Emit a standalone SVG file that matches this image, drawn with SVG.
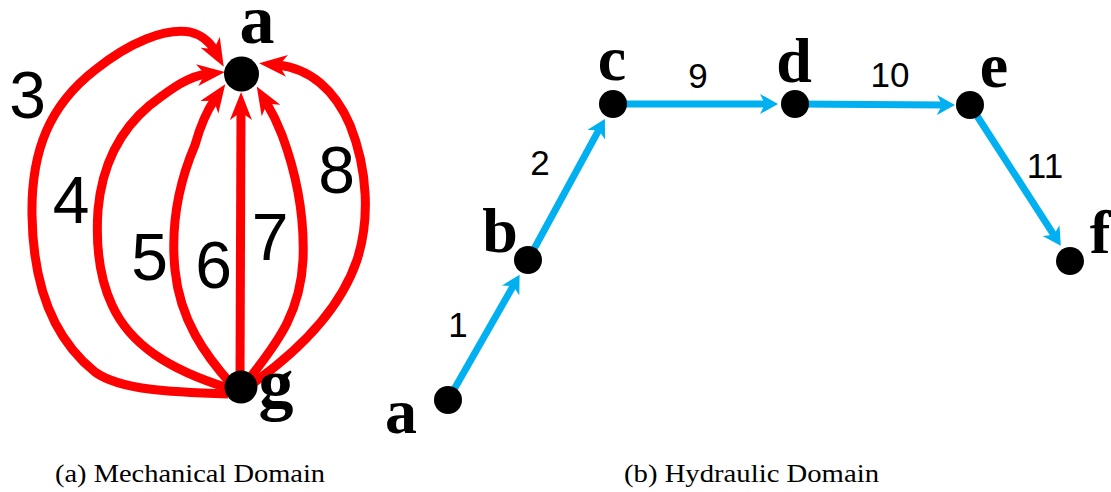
<svg xmlns="http://www.w3.org/2000/svg" width="1111" height="492" viewBox="0 0 1111 492">
<style>
.red{fill:none;stroke:#FF0000;stroke-width:9;marker-end:url(#ra)}
.blue{fill:none;stroke:#00B0F0;stroke-width:7;marker-end:url(#ba)}
.node{fill:#000}
.lbl{font-family:"Liberation Serif",serif;font-weight:bold;fill:#000;text-anchor:middle}
.num{font-family:"Liberation Sans",Arial,sans-serif;fill:#000;text-anchor:middle}
.cap{font-family:"Liberation Serif",serif;font-size:25px;fill:#000}
</style>
<defs>
<marker id="ra" viewBox="0 0 28 22" refX="10" refY="11" markerWidth="28" markerHeight="22" markerUnits="userSpaceOnUse" orient="auto">
<path d="M0,0 L28,11 L0,22 L8,11 Z" fill="#FF0000"/>
</marker>
<marker id="ba" viewBox="0 0 18 20" refX="8" refY="10" markerWidth="18" markerHeight="20" markerUnits="userSpaceOnUse" orient="auto">
<path d="M0,0 L18,10 L0,20 L5,10 Z" fill="#00B0F0"/>
</marker>
</defs>
<g id="connectors">
<path id="e3" class="red" d="M228,394 C170,392 120,390 95,372 C55,340 33,290 32,215 C31,150 50,105 95,70 C130,42 165,28 190,32 C202,35 210,42 215,51"/>
<path id="e4" class="red" d="M228,388 C170,370 130,345 112,305 C98,275 96,240 98,210 C102,165 120,130 150,105 C170,90 188,76 207,74"/>
<path id="e5" class="red" d="M232,385 C205,355 180,320 175,270 C170,220 180,180 195,145 C200,127 206,112 215,99"/>
<path id="e6" class="red" d="M240,380 L241,110"/>
<path id="e7" class="red" d="M247,382 C270,350 300,320 303,260 C305,210 295,170 282,135 C277,122 272,112 266,102"/>
<path id="e8" class="red" d="M252,384 C300,350 340,310 357,260 C370,220 368,170 350,125 C335,90 310,68 277,65"/>
<path id="e1" class="blue" d="M448,400 L514.6,283.5"/>
<path id="e2" class="blue" d="M528,260 L600.1,127.7"/>
<path id="e9" class="blue" d="M613,104 L768,104"/>
<path id="e10" class="blue" d="M795,104 L945,105"/>
<path id="e11" class="blue" d="M970,105 L1055.4,237.3"/>
</g>
<g id="edge-labels">
<text class="num" font-size="66" x="27.5" y="118">3</text>
<text class="num" font-size="66" x="71" y="223">4</text>
<text class="num" font-size="66" x="149.5" y="280">5</text>
<text class="num" font-size="66" x="213.5" y="288">6</text>
<text class="num" font-size="66" x="270" y="260">7</text>
<text class="num" font-size="66" x="336.5" y="193">8</text>
<text class="num" font-size="35" x="458" y="337">1</text>
<text class="num" font-size="35" x="540" y="175">2</text>
<text class="num" font-size="35" x="698" y="88">9</text>
<text class="num" font-size="35" x="890" y="87">10</text>
<text class="num" font-size="35" x="1045" y="178">11</text>
</g>
<g id="node-ma">
<circle class="node" cx="241.5" cy="74" r="17.5"/>
<text class="lbl" font-size="70" x="257" y="43">a</text>
</g>
<g id="node-mg">
<circle class="node" cx="241" cy="387" r="16.5"/>
<text class="lbl" font-size="70" x="276" y="407">g</text>
</g>
<g id="node-ha">
<circle class="node" cx="448" cy="400" r="14"/>
<text class="lbl" font-size="64" x="401" y="433">a</text>
</g>
<g id="node-hb">
<circle class="node" cx="528" cy="260" r="14"/>
<text class="lbl" font-size="64" x="500" y="252">b</text>
</g>
<g id="node-hc">
<circle class="node" cx="613" cy="104" r="14"/>
<text class="lbl" font-size="64" x="612" y="80">c</text>
</g>
<g id="node-hd">
<circle class="node" cx="795" cy="104" r="14"/>
<text class="lbl" font-size="64" x="794" y="82">d</text>
</g>
<g id="node-he">
<circle class="node" cx="970" cy="105" r="14"/>
<text class="lbl" font-size="64" x="994" y="87">e</text>
</g>
<g id="node-hf">
<circle class="node" cx="1070" cy="261" r="14"/>
<text class="lbl" font-size="62" x="1100" y="253">f</text>
</g>
<g id="captions">
<text class="cap" x="55" y="482" textLength="270" lengthAdjust="spacingAndGlyphs">(a) Mechanical Domain</text>
<text class="cap" x="624" y="482" textLength="255" lengthAdjust="spacingAndGlyphs">(b) Hydraulic Domain</text>
</g>
</svg>
